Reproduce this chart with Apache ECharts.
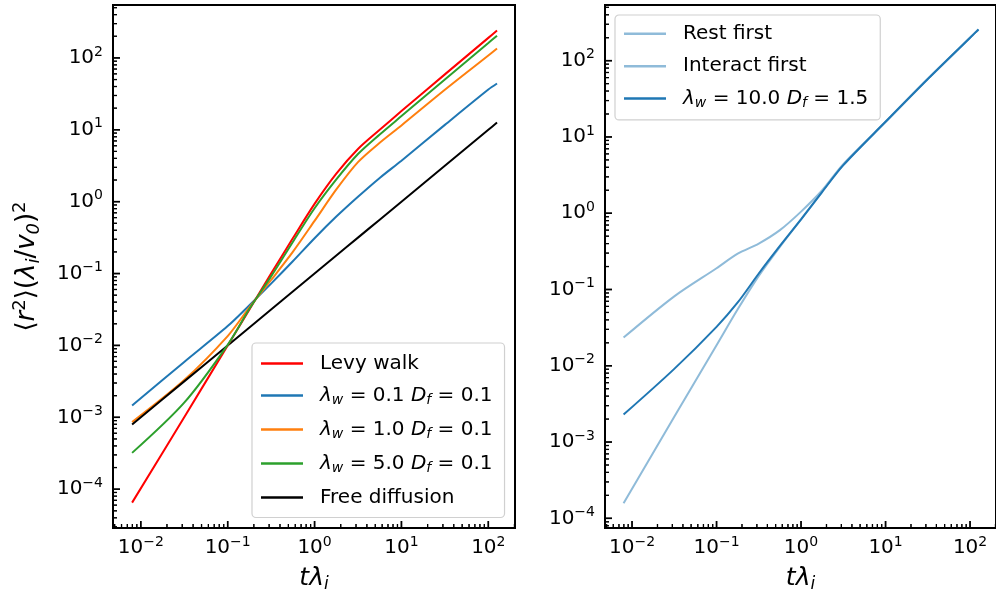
<!DOCTYPE html>
<html>
<head>
<meta charset="utf-8">
<script src="https://cdn.jsdelivr.net/npm/echarts@6/dist/echarts.min.js"></script>
<style>html,body{margin:0;padding:0;background:#fff}#c{width:996px;height:601px}</style>
</head>
<body>
<div id="c"></div>
<script>
// ---- Data (t*lambda_i  vs  <r^2>(lambda_i/v0)^2) ----
const tLeft = [0.00794, 0.0316, 0.1, 0.178, 0.316, 0.562, 1, 1.78, 3.16, 5.62, 10, 31.6, 100, 125.9];
const levyWalk   = [6.5e-5, 1.0e-3, 0.0100, 0.0316, 0.100, 0.309, 0.93, 2.45, 5.4, 10.0, 18.2, 59, 190, 240];
const lw01       = [1.46e-3, 5.9e-3, 0.0186, 0.0363, 0.0724, 0.148, 0.31, 0.62, 1.17, 2.14, 3.72, 11.7, 36.3, 44];
const lw10       = [8.6e-4, 3.3e-3, 0.0135, 0.0339, 0.0813, 0.20, 0.54, 1.48, 3.55, 6.6, 11.5, 36, 108, 135];
const lw50       = [3.2e-4, 1.6e-3, 0.0102, 0.0324, 0.0912, 0.275, 0.81, 2.04, 4.6, 8.6, 15.5, 50, 161, 204];
const freeDiff   = [7.94e-4, 3.16e-3, 0.01, 0.0178, 0.0316, 0.0562, 0.1, 0.178, 0.316, 0.562, 1, 3.16, 10, 12.6];

const tRight = [0.00794, 0.0316, 0.1, 0.178, 0.316, 0.562, 1, 1.78, 3.16, 10, 31.6, 100, 125.9];
const restFirst     = [1.58e-4, 2.14e-3, 0.0186, 0.055, 0.151, 0.363, 0.832, 1.91, 4.27, 15.8, 57.5, 200, 257];
const interactFirst = [0.0234, 0.0813, 0.19, 0.295, 0.40, 0.60, 1.05, 2.0, 4.4, 15.8, 57.5, 200, 257];
const activeWalk    = [2.29e-3, 9.1e-3, 0.0324, 0.0676, 0.162, 0.372, 0.832, 1.91, 4.27, 15.8, 57.5, 200, 257];

const namesLeft  = ['Levy walk', 'λw = 0.1 Df = 0.1', 'λw = 1.0 Df = 0.1', 'λw = 5.0 Df = 0.1', 'Free diffusion'];
const namesRight = ['Rest first', 'Interact first', 'λw = 10.0 Df = 1.5'];
const xMajorExp = [-2, -1, 0, 1, 2];
const yMajorExp = [-4, -3, -2, -1, 0, 1, 2];

// ---- helpers ----
const FONT = 'DejaVu Sans';
const L = Math.log10;
const pts = (xs, ys) => xs.map((x, i) => [L(x), L(ys[i])]);
function minorVals(lo, hi) {
  const out = [];
  for (let n = -6; n <= 3; n++) for (let k = 2; k <= 9; k++) {
    const v = n + L(k);
    if (v > lo && v < hi) out.push(v);
  }
  return out;
}
const expLabel = v => { const e = Math.round(v); return '{n|10}{e|' + (e < 0 ? '\u2212' : '') + Math.abs(e) + '}'; };
const labelRich = {
  n: { fontFamily: FONT, fontSize: 20, color: '#000', lineHeight: 26 },
  e: { fontFamily: FONT, fontSize: 14, color: '#000', verticalAlign: 'top', lineHeight: 15 }
};
function legendFmt(name) {
  const m = name.match(/^λw = ([\d.]+) Df = ([\d.]+)$/);
  if (!m) return '{t|' + name + '}';
  return '{i|λ}{s|w}{t| = ' + m[1] + ' }{i|D}{s|f}{t| = ' + m[2] + '}';
}
const legendRich = {
  t: { fontFamily: FONT, fontSize: 20, color: '#000', lineHeight: 24 },
  i: { fontFamily: FONT, fontSize: 20, fontStyle: 'italic', color: '#000', lineHeight: 24 },
  s: { fontFamily: FONT, fontSize: 14, fontStyle: 'italic', color: '#000', verticalAlign: 'bottom', lineHeight: 15 }
};

const xExt = [-2.32, 2.307];
const yExtL = [-4.54, 2.736];
const yExtR = [-4.127, 2.73];

function valueAxis(grid, ext, vals, isX, name) {
  const a = {
    type: 'value', gridIndex: grid, min: ext[0], max: ext[1],
    position: isX ? 'bottom' : 'left',
    axisLine: { show: true, onZero: false, lineStyle: { color: '#000', width: 2 } },
    splitLine: { show: false }, axisTick: { show: false },
    axisLabel: { show: true, customValues: vals, formatter: expLabel, rich: labelRich, margin: isX ? 7 : 10 }
  };
  if (name) Object.assign(a, name);
  return a;
}
const xName = {
  name: '{i|tλ}{s|i}', nameLocation: 'middle', nameGap: 35,
  nameTextStyle: { rich: {
    i: { fontFamily: FONT, fontSize: 25, fontStyle: 'italic', color: '#000', lineHeight: 30 },
    s: { fontFamily: FONT, fontSize: 17, fontStyle: 'italic', color: '#000', verticalAlign: 'bottom', lineHeight: 18 }
  } }
};
const yName = {
  name: '{t|⟨}{i|r}{p|2}{t|⟩(}{i|λ}{s|i}{t|/}{i|v}{s|0}{t|)}{p|2}', nameLocation: 'middle', nameGap: 70, nameRotate: 90,
  nameTextStyle: { rich: {
    t: { fontFamily: FONT, fontSize: 26, color: '#000', lineHeight: 32 },
    i: { fontFamily: FONT, fontSize: 26, fontStyle: 'italic', color: '#000', lineHeight: 32 },
    p: { fontFamily: FONT, fontSize: 18, color: '#000', verticalAlign: 'top', lineHeight: 18 },
    s: { fontFamily: FONT, fontSize: 18, fontStyle: 'italic', color: '#000', verticalAlign: 'bottom', lineHeight: 18 }
  } }
};

function line(name, data, color, gi, z) {
  return { type: 'line', name, data, xAxisIndex: gi, yAxisIndex: gi, symbol: 'none', smooth: 0.3,
    lineStyle: { color, width: 2 }, itemStyle: { color }, z: z || 2, animation: false };
}
// inward tick marks: each item is [x, y, length(px), vertical?], positioned through the axes' scales
function tickData(xExtent, yExtent) {
  const data = [];
  yMajorExp.forEach(v => data.push([xExtent[0], v, 7, 0]));
  minorVals(yExtent[0], yExtent[1]).forEach(v => data.push([xExtent[0], v, 4, 0]));
  xMajorExp.forEach(v => data.push([v, yExtent[0], 7, 1]));
  minorVals(xExtent[0], xExtent[1]).forEach(v => data.push([v, yExtent[0], 4, 1]));
  return data;
}
function tickSeries(gi, xExtent, yExtent) {
  const data = tickData(xExtent, yExtent);
  return [{
    type: 'custom', xAxisIndex: gi, yAxisIndex: gi, data, silent: true, z: 10, clip: true, animation: false,
    encode: { x: 0, y: 1 },
    renderItem: (params, api) => {
      const p = api.coord([api.value(0), api.value(1)]);
      const len = api.value(2), vert = api.value(3);
      return {
        type: 'line',
        shape: vert ? { x1: p[0], y1: p[1], x2: p[0], y2: p[1] - len } : { x1: p[0], y1: p[1], x2: p[0] + len, y2: p[1] },
        style: { stroke: '#000', lineWidth: len > 5 ? 1.5 : 1.2 }
      };
    }
  }, {
    type: 'scatter', xAxisIndex: gi, yAxisIndex: gi, silent: true, z: 10, animation: false,
    data: data.map(d => ({ value: [d[0], d[1]],
      symbolSize: d[3] ? [d[2] > 5 ? 1.5 : 1.2, d[2]] : [d[2], d[2] > 5 ? 1.5 : 1.2],
      symbolOffset: d[3] ? [0, -d[2] / 2] : [d[2] / 2, 0] })),
    symbol: 'rect', itemStyle: { color: '#000' }
  }];
}

const option = {
  animation: false,
  backgroundColor: '#fff',
  grid: [
    { left: 113, top: 5, right: 481, bottom: 73, show: true, borderColor: '#000', borderWidth: 2, backgroundColor: 'transparent' },
    { left: 605, top: 5, right: -12, bottom: 73, show: true, borderColor: '#000', borderWidth: 2, backgroundColor: 'transparent' }
  ],
  xAxis: [
    valueAxis(0, xExt, xMajorExp, true, xName),
    valueAxis(1, xExt, xMajorExp, true, xName)
  ],
  yAxis: [
    valueAxis(0, yExtL, yMajorExp, false, yName),
    valueAxis(1, yExtR, yMajorExp, false)
  ],
  legend: [
    { data: namesLeft.map(n => ({ name: n, icon: 'rect' })), orient: 'vertical', left: 252, top: 343,
      itemWidth: 42, itemHeight: 2.5, itemGap: 12, padding: [10.5, 12, 10, 9],
      backgroundColor: 'rgba(255,255,255,0.85)', borderColor: '#d0d0d0', borderWidth: 1.2, borderRadius: 4,
      formatter: legendFmt, textStyle: { rich: legendRich, padding: [0, 0, 0, 12] } },
    { data: namesRight.map(n => ({ name: n, icon: 'rect' })), orient: 'vertical', left: 615, top: 15,
      itemWidth: 42, itemHeight: 2.5, itemGap: 12.4, padding: [8.8, 12, 9.3, 9],
      backgroundColor: 'rgba(255,255,255,0.85)', borderColor: '#d0d0d0', borderWidth: 1.2, borderRadius: 4,
      formatter: legendFmt, textStyle: { rich: legendRich, padding: [0, 0, 0, 12] } }
  ],
  series: [
    line(namesLeft[0], pts(tLeft, levyWalk), '#ff0000', 0, 6),
    line(namesLeft[1], pts(tLeft, lw01), '#1f77b4', 0, 2),
    line(namesLeft[2], pts(tLeft, lw10), '#ff7f0e', 0, 3),
    line(namesLeft[3], pts(tLeft, lw50), '#2ca02c', 0, 7),
    line(namesLeft[4], pts(tLeft, freeDiff), '#000000', 0, 5),
    line(namesRight[0], pts(tRight, restFirst), '#8fbbd9', 1, 2),
    line(namesRight[1], pts(tRight, interactFirst), '#8fbbd9', 1, 2),
    line(namesRight[2], pts(tRight, activeWalk), '#1f77b4', 1, 3),
    ...tickSeries(0, xExt, yExtL),
    ...tickSeries(1, xExt, yExtR)
  ]
};
const chart = echarts.init(document.getElementById('c'), null, { renderer: 'canvas' });
chart.setOption(option);
</script>
</body>
</html>
